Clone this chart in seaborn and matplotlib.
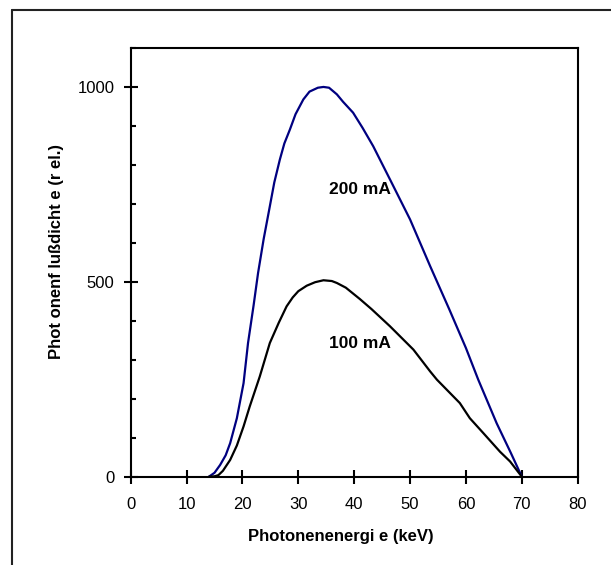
import matplotlib
matplotlib.use("Agg")
import matplotlib.pyplot as plt
from matplotlib.lines import Line2D
from matplotlib.ticker import MultipleLocator
import seaborn as sns
import pandas as pd

energy_200 = [14.0, 15.0, 16.0, 17.0, 17.8, 19.0, 20.2, 21.0, 22.0, 22.8, 23.8, 24.8, 25.7, 26.7,
              27.5, 28.5, 29.5, 30.9, 32.0, 33.5, 34.5, 35.5, 36.9, 38.0, 39.8, 41.5, 43.4,
              46.5, 50.0, 53.6, 57.0, 60.0, 62.2, 65.5, 68.0, 70.0]
flux_200 = [0, 10, 30, 55, 86, 150, 240, 343, 440, 523, 610, 686, 755, 814,
            855, 891, 930, 968, 988, 998, 1000, 998, 981, 962, 934, 895, 848,
            760, 660, 540, 430, 330, 249, 137, 62, 0]

energy_100 = [14.0, 15.0, 15.7, 16.5, 17.8, 19.0, 20.2, 21.3, 23.1, 24.9, 26.5, 27.9, 29.0, 30.0,
              31.5, 33.0, 34.5, 36.0, 36.9, 38.5, 41.0, 43.1, 46.4, 50.6, 53.6, 54.8, 58.9,
              60.7, 63.1, 66.1, 67.9, 70.0]
flux_100 = [0, 1, 4, 15, 43, 80, 129, 180, 257, 343, 395, 437, 460, 476,
            490, 499, 504, 502, 497, 485, 456, 430, 386, 326, 270, 249, 189,
            150, 112, 64, 39, 0]

labels = ["200 mA", "100 mA"]
label_x = [41.0, 41.0]
label_y = [737, 341]

sns.set_style("white")
plt.rcParams['font.family'] = ['Liberation Sans', 'DejaVu Sans']
plt.rcParams['text.color'] = 'black'
plt.rcParams['axes.labelcolor'] = 'black'
plt.rcParams['xtick.color'] = 'black'
plt.rcParams['ytick.color'] = 'black'

fig = plt.figure(figsize=(6.11, 5.65), dpi=100)
ax = fig.add_axes([0.2139, 0.1563, 0.7316, 0.7588])

df200 = pd.DataFrame({"E": energy_200, "F": flux_200})
df100 = pd.DataFrame({"E": energy_100, "F": flux_100})
sns.lineplot(data=df200, x="E", y="F", ax=ax, color="#000080", linewidth=1.6, sort=False, estimator=None)
sns.lineplot(data=df100, x="E", y="F", ax=ax, color="black", linewidth=1.6, sort=False, estimator=None)

for t, x, y in zip(labels, label_x, label_y):
    ax.text(x, y, t, ha="center", va="center", fontsize=12.5, fontweight="bold", color="black")

ax.set_xlim(0, 80)
ax.set_ylim(0, 1100)
ax.xaxis.set_major_locator(MultipleLocator(10))
ax.yaxis.set_major_locator(MultipleLocator(500))
ax.yaxis.set_minor_locator(MultipleLocator(100))

for s in ax.spines.values():
    s.set_linewidth(1.5)
    s.set_color("black")

ax.tick_params(axis="x", which="major", direction="inout", length=9.4, width=1.5, pad=10, labelsize=12, bottom=True)
ax.tick_params(axis="y", which="major", direction="inout", length=9.4, width=1.5, pad=7, labelsize=12, left=True)
ax.tick_params(axis="y", which="minor", direction="in", length=3.4, width=1.5, left=True)

ax.set_xlabel("Photonenenergi e (keV)", fontsize=12, fontweight="bold")
ax.set_ylabel("Phot onenf lußdicht e (r el.)", fontsize=12, fontweight="bold")
ax.xaxis.set_label_coords((341 - 130.7) / 447.0, -(529 - 476.7) / 428.7)
ax.yaxis.set_label_coords(-(130.7 - 64) / 447.0, (476.7 - 252) / 428.7)

W, H = 611, 565
fig.add_artist(Line2D([12 / W, 1], [1 - 10 / H, 1 - 10 / H], transform=fig.transFigure, color="#222222", linewidth=1.5))
fig.add_artist(Line2D([12 / W, 12 / W], [0, 1 - 10 / H], transform=fig.transFigure, color="#222222", linewidth=1.5))

fig.savefig("out.png", dpi=100)
